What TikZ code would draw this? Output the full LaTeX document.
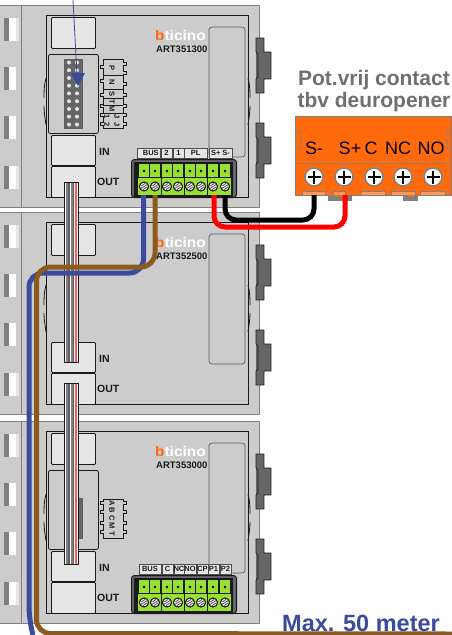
\documentclass[tikz,border=0pt]{standalone}
\usepackage{fontspec}
\setmainfont{Liberation Sans}
\definecolor{body}{HTML}{CCCCCC}
\definecolor{slot}{HTML}{E6E6E6}
\definecolor{edge}{HTML}{808080}
\definecolor{dk}{HTML}{1A1A1A}
\definecolor{clipgray}{HTML}{666666}
\definecolor{termgreen}{HTML}{99E033}
\definecolor{orng}{HTML}{FF6A0D}
\definecolor{wblue}{HTML}{3B4A9C}
\definecolor{wbrown}{HTML}{8B5A1E}
\definecolor{ttl}{HTML}{707070}
\tikzset{
  x=1pt,y=-1pt,
  inner/.style={draw=dk,line width=1pt,fill=body},
  slotbox/.style={draw=dk,line width=.9pt,fill=slot,rounded corners=1pt},
  lbl/.style={inner sep=0pt,font=\bfseries\fontsize{10.5}{10.5}\selectfont,text=dk},
  art/.style={inner sep=0pt,font=\bfseries\fontsize{9.5}{9.5}\selectfont,text=dk},
  tiny/.style={inner sep=0pt,font=\bfseries\fontsize{7.5}{7.5}\selectfont,text=dk},
  tinyr/.style={inner sep=0pt,font=\bfseries\fontsize{7.5}{7.5}\selectfont,text=dk,rotate=-90},
  strip/.style={draw=edge!60!black,line width=.5pt,fill=slot},
  wire/.style={line width=#1,rounded corners=9pt,line cap=butt},
  blk/.style={inner sep=0pt,font=\fontsize{18}{18}\selectfont,text=black},
  ttlstyle/.style={inner sep=0pt,font=\bfseries\fontsize{21}{21}\selectfont,text=ttl},
}
\newcommand{\modbody}[3]{%
\begin{scope}[yshift=-#1pt]
  \fill[body] (0,5) rectangle (259,207);
  \draw[edge,line width=.7pt] (0,5) -- (259,5) -- (259,207) -- (0,207);
  \draw[edge,line width=1pt] (21,5) -- (21,207);
  \foreach \wy in {18,67,116,166}{
    \fill[white] (9,\wy) rectangle (16,\wy+23);
    \fill[edge] (4,\wy) rectangle (9,\wy+23);
  }
  \foreach \wy in {18,166}{\fill[slot] (16,\wy) rectangle (19,\wy+23);}
  \draw[inner] (46,15) rectangle (248,197);
  \draw[dk,line width=.8pt] (46,78) .. controls (44,85) and (44,92) .. (44,98);
  \draw[dk,line width=.8pt] (44,106) .. controls (44,112) and (45,118) .. (46,125);
  \draw[dk,line width=.8pt] (248,78) .. controls (250,85) and (250,92) .. (250,98);
  \draw[dk,line width=.8pt] (250,106) .. controls (250,112) and (249,118) .. (248,125);
  \node[slotbox,minimum width=44pt,minimum height=31pt,anchor=north west] (#2top) at (51,17) {};
  \node[slotbox,minimum width=44pt,minimum height=30pt,anchor=north west] (#2in) at (51,135) {};
  \node[slotbox,minimum width=44pt,minimum height=31pt,anchor=north west] (#2out) at (51,166) {};
  \draw[edge!70!black,line width=.7pt,rounded corners=3pt] (209,27) rectangle (245,157);
  \node[lbl,anchor=west] (#2inlbl) at (99,152) {IN};
  \node[lbl,anchor=west] (#2outlbl) at (97,182) {OUT};
  \node[inner sep=0pt,anchor=west,text=white,font=\bfseries\fontsize{14}{14}\selectfont] (#2logo) at (155,35) {\scalebox{1.1}[1]{\textcolor{orng}{b}ticino}};
  \node[art,anchor=west] (#2art) at (156,49) {#3};
  \fill[clipgray] (256,38) rectangle (264,93);
  \fill[clipgray] (264,52) rectangle (271,79);
  \fill[clipgray] (256,123) rectangle (264,178);
  \fill[clipgray] (264,137) rectangle (271,164);
  \draw[dk,line width=.7pt] (256,38) -- (264,38) -- (264,52) -- (271,52) -- (271,79) -- (264,79) -- (264,93) -- (256,93) -- (256,79) -- (258,77) -- (258,54) -- (256,52) -- cycle;
  \draw[dk,line width=.7pt] (256,123) -- (264,123) -- (264,137) -- (271,137) -- (271,164) -- (264,164) -- (264,178) -- (256,178) -- (256,164) -- (258,162) -- (258,139) -- (256,137) -- cycle;
\end{scope}}
\newcommand{\panel}[2]{%
\begin{scope}[yshift=-#1pt]
  \node[draw=dk,line width=.8pt,fill=body,rounded corners=2pt,minimum width=50pt,minimum height=79pt,anchor=north west] (#2panel) at (48,54) {};
\end{scope}}
\newcommand{\terminal}[2]{%
\begin{scope}[yshift=-#1pt]
  \node[draw=dk,fill=clipgray,line width=1pt,rounded corners=3pt,minimum width=105pt,minimum height=38pt,anchor=north west] (#2term) at (131,159) {};
  \fill[dk] (134,161.5) rectangle (233,197);
  \fill[termgreen] (138,178) rectangle (231,195);
  \foreach \cx in {144,155,167,178,190,201,213,225}{
    \fill[termgreen] (\cx-5,164) rectangle (\cx+5,177);
    \fill[black] (\cx,171) circle (1.4pt);
    \fill[white] (\cx,186.5) circle (4.2pt);
    \draw[dk,line width=1.1pt] (\cx,186.5) circle (4.5pt);
    \draw[dk!70,line width=.9pt] (\cx-3.2,188.5) -- (\cx+3.2,184.5) (\cx-2.6,186) -- (\cx+1,183.4) (\cx-1,189.6) -- (\cx+2.8,187);
  }
  \foreach \gx in {161,184,207}{\draw[dk,line width=.8pt] (\gx,164) -- (\gx,195);}
\end{scope}}
\newcommand{\ribbon}[2]{%
  \fill[white] (64,#1) rectangle (78,#2);
  \fill[edge] (65.5,#1) rectangle (68,#2);
  \fill[dk!70] (68,#1) rectangle (69.5,#2);
  \fill[edge] (71,#1) rectangle (73,#2);
  \fill[dk!70] (73,#1) rectangle (73.7,#2);
  \fill[red!65] (75,#1) rectangle (76.5,#2);
  \draw[dk,line width=.7pt] (64,#1) rectangle (78,#2);}
\begin{document}
\begin{tikzpicture}
\useasboundingbox (0,0) rectangle (452,635);
\fill[white] (0,0) rectangle (452,635);

\modbody{0}{ma}{ART351300}
\modbody{207}{mb}{ART352500}
\modbody{416}{mc}{ART353000}
\panel{0}{ma}
\panel{416}{mc}

\node[draw=dk!70,fill=clipgray,line width=.7pt,minimum width=18pt,minimum height=69pt,anchor=north west,inner sep=0pt] (pins) at (64,59) {};
\foreach \py in {62.5,70.2,78,85.7,93.4,101.2,109,116.7,124.5}{
  \fill[slot] (69,\py) circle (2pt);
  \fill[slot] (77,\py) circle (2pt);
}
\draw[dk,line width=.6pt,fill=body] (103,59) -- (123,59) -- (123,62) -- (126,62) -- (126,65) -- (123,65) -- (123,71) -- (126,71) -- (126,74) -- (123,74) -- (123,82) -- (126,82) -- (126,85) -- (123,85) -- (123,93) -- (126,93) -- (126,96) -- (123,96) -- (123,104) -- (126,104) -- (126,107) -- (123,107) -- (123,113) -- (126,113) -- (126,116) -- (123,116) -- (123,122) -- (126,122) -- (126,125) -- (123,125) -- (123,128) -- (103,128) -- (103,125) -- (100,125) -- (100,122) -- (103,122) -- (103,116) -- (100,116) -- (100,113) -- (103,113) -- (103,107) -- (100,107) -- (100,104) -- (103,104) -- (103,96) -- (100,96) -- (100,93) -- (103,93) -- (103,82) -- (100,82) -- (100,79) -- (103,79) -- (103,68) -- (100,68) -- (100,65) -- (103,65) -- cycle;
\draw[dk,line width=.5pt] (103,75) -- (123,75) (103,89) -- (123,89) (103,98) -- (123,98) (103,105) -- (123,105) (103,113) -- (123,113);
\node[tinyr] (jp) at (112,68) {P};
\node[tinyr] (jn) at (112,82) {N};
\node[tinyr] (js) at (112,94) {S};
\node[tinyr] (jt) at (112,102) {T};
\node[tinyr] (jm) at (112,109) {M};
\node[tinyr] (jo) at (107,117) {1};
\node[tinyr] (jj) at (117,117) {J};
\node[tinyr] (jw) at (107,124.5) {2};
\node[tinyr] (jk) at (117,124.5) {J};

\node[draw=dk!70,fill=clipgray,line width=.7pt,minimum width=18pt,minimum height=40pt,anchor=north west,inner sep=0pt] (pinsc) at (64,498) {};
\draw[dk,line width=.6pt,fill=body] (103,499) -- (123,499) -- (123,501) -- (126,501) -- (126,504) -- (123,504) -- (123,510) -- (126,510) -- (126,513) -- (123,513) -- (123,521) -- (126,521) -- (126,524) -- (123,524) -- (123,530) -- (126,530) -- (126,533) -- (123,533) -- (123,538) -- (103,538) -- (103,533) -- (100,533) -- (100,530) -- (103,530) -- (103,524) -- (100,524) -- (100,521) -- (103,521) -- (103,513) -- (100,513) -- (100,510) -- (103,510) -- (103,504) -- (100,504) -- (100,501) -- (103,501) -- cycle;
\node[tinyr] (ja) at (112,503) {A};
\node[tinyr] (jb) at (112,510.5) {B};
\node[tinyr] (jc) at (112,518) {C};
\node[tinyr] (jd) at (112,526) {M};
\node[tinyr] (je) at (112,534) {T};

\terminal{0}{ma}
\terminal{416}{mc}
\foreach \a/\b/\t/\n in {137.5/160/\ \ BUS/la,161/172/2/lb,173/184/1/lc,184.5/207/PL/ld,209/232/S+ S-/le}{
  \draw[strip] (\a,148) rectangle (\b,158);
  \node[tiny] (\n) at ({(\a+\b)/2},153) {\t};
}
\foreach \a/\b/\t/\n in {139/161/BUS/ka,162/173/C/kb,174/184/NC/kc,184/196/NO/kd,197/208/CP/ke,208/219/P1/kf,220/231/P2/kg}{
  \draw[strip] (\a,564) rectangle (\b,574);
  \node[tiny] (\n) at ({(\a+\b)/2},569) {\t};
}

\node[draw=edge,fill=orng,line width=1pt,minimum width=156pt,minimum height=79pt,anchor=north west,inner sep=0pt] (contact) at (295,116) {};
\draw[edge!80!orng,line width=.8pt] (295,163) -- (451,163);
\draw[edge!80!orng,line width=.6pt] (295,131) -- (300,131) -- (300,148) -- (295,148) (451,131) -- (446,131) -- (446,148) -- (451,148);
\fill[edge] (328,195) -- (352,195) -- (352,201) -- (328,201) -- cycle;
\fill[edge] (403,195) -- (418,195) -- (418,201) -- (403,201) -- cycle;
\fill[orng] (335,195) rectangle (345,197);
\fill[orng] (408,195) rectangle (414,197);
\foreach \a/\b in {302/325,333/345,361/385,391/415,420/445}{
  \draw[edge,line width=.8pt,fill=orng!70!white] (\a,195) -- (\a,191.5) -- (\b,191.5) -- (\b,195);
}
\node[blk] (ts) at (314,148) {S-};
\node[blk] (tp) at (350,148) {S+};
\node[blk] (tc) at (371,148) {C};
\node[blk] (tn) at (398,148) {NC};
\node[blk] (to) at (431,148) {NO};
\foreach \sx/\sn in {314/sa,344/sb,374/sc,403/sd,433/se}{
  \node[circle,draw=edge,fill=white,line width=1.4pt,minimum size=18pt,inner sep=0pt] (\sn) at (\sx,177) {};
  \fill[black] (\sx-6.5,175.8) rectangle (\sx+6.5,178.2);
  \fill[black] (\sx-1.2,170.5) rectangle (\sx+1.2,183.5);
}
\node[ttlstyle] (title1) at (374,80) {Pot.vrij contact};
\node[ttlstyle] (title2) at (374,102) {tbv deuropener};

\ribbon{182}{362}
\ribbon{383}{564}

\coordinate (bl0) at (143.5,195);
\coordinate (bl1) at (33,635);
\coordinate (br0) at (155,195);
\coordinate (br1) at (452,634);
\coordinate (rd0) at (214,195);
\coordinate (rd1) at (345,195);
\coordinate (bk0) at (225,195);
\coordinate (bk1) at (314,195);
\draw[wblue,wire=5pt,rounded corners=14pt] (bl0) -- (143.5,273) -- (29,273) -- (29,620) -- (bl1);
\draw[wbrown,wire=5pt,rounded corners=14pt] (br0) -- (155,267) -- (36.5,267) -- (36.5,633.5) -- (br1);
\draw[red,wire=5pt,rounded corners=11pt] (rd0) |- (345,227) -- (rd1);
\draw[black,wire=5pt,rounded corners=11pt] (bk0) |- (314,220) -- (bk1);

\coordinate (ptr) at (73,0);
\draw[wblue,line width=.8pt] (ptr) -- (77,75);
\fill[wblue] (71,73) -- (85,73) -- (78,86) -- cycle;

\node[inner sep=0pt,anchor=west,text=wblue,font=\bfseries\fontsize{23.5}{23.5}\selectfont] (maxlen) at (282,623) {Max. 50 meter};
\end{tikzpicture}
\end{document}
